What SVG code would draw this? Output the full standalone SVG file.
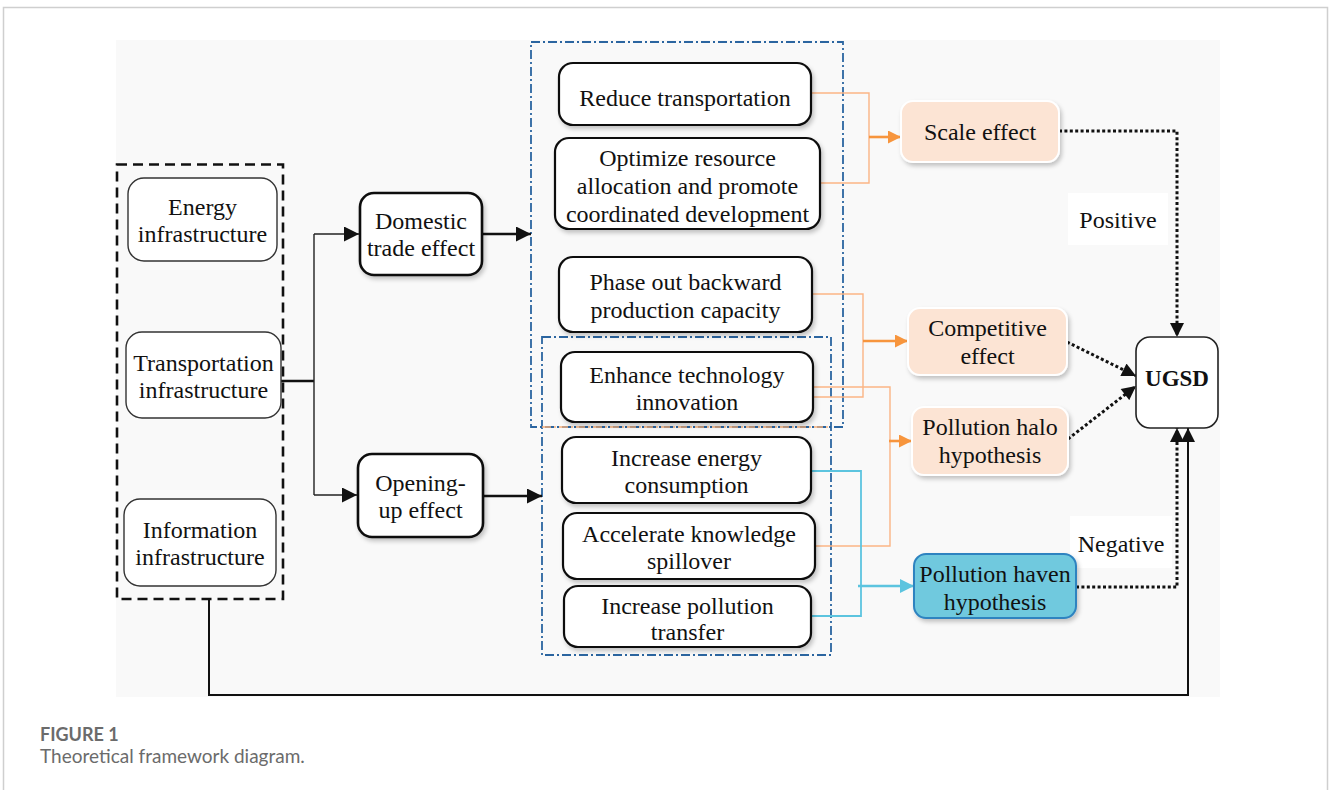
<svg xmlns="http://www.w3.org/2000/svg" width="1330" height="790" viewBox="0 0 1330 790">
<style>
  .t { font-family: "Liberation Serif", "Times New Roman", serif; font-size: 24px; fill: #111; text-anchor: middle; }
  .b { font-weight: bold; font-size: 23px; }
  .infra { fill: #fff; stroke: #333; stroke-width: 1.4; }
  .eff { fill: #fff; stroke: #111; stroke-width: 2.6; }
  .mech { fill: #fff; stroke: #111; stroke-width: 2.2; }
  .peach { fill: #fce4d4; stroke: #fff; stroke-width: 2; }
  .haven { fill: #6fc9de; stroke: #2e83c0; stroke-width: 2; }
  .thin { fill: none; stroke: #222; stroke-width: 1.4; }
  .thick { fill: none; stroke: #111; stroke-width: 2.6; }
  .dot { fill: none; stroke: #111; stroke-width: 3; stroke-dasharray: 3 2.4; }
  .or { fill: none; stroke: #fbb585; stroke-width: 1.4; }
  .orA { fill: none; stroke: #f7953d; stroke-width: 2.6; }
  .bl { fill: none; stroke: #5cc4df; stroke-width: 1.8; }
  .blA { fill: none; stroke: #5cc4df; stroke-width: 2.6; }
  .dd { fill: none; stroke: #2b65a0; stroke-width: 1.8; stroke-dasharray: 9 3 2 3; }
  .cap { font-family: Lato, "Open Sans", sans-serif; fill: #6b6b6b; }
</style>
<defs>
  <filter id="sh" x="-10%" y="-10%" width="125%" height="135%">
    <feDropShadow dx="2" dy="3" stdDeviation="2" flood-color="#000" flood-opacity="0.22"/>
  </filter>
  <marker id="ab" viewBox="0 0 10 10" refX="10" refY="5" markerUnits="userSpaceOnUse" markerWidth="17" markerHeight="15" orient="auto">
    <path d="M0,0 L10,5 L0,10 z" fill="#111"/>
  </marker>
  <marker id="ad" viewBox="0 0 10 10" refX="10" refY="5" markerUnits="userSpaceOnUse" markerWidth="15" markerHeight="14" orient="auto">
    <path d="M0,0 L10,5 L0,10 z" fill="#111"/>
  </marker>
  <marker id="ao" viewBox="0 0 10 10" refX="10" refY="5" markerUnits="userSpaceOnUse" markerWidth="16" markerHeight="13" orient="auto">
    <path d="M0,0 L10,5 L0,10 z" fill="#f7953d"/>
  </marker>
  <marker id="ablue" viewBox="0 0 10 10" refX="10" refY="5" markerUnits="userSpaceOnUse" markerWidth="16" markerHeight="14" orient="auto">
    <path d="M0,0 L10,5 L0,10 z" fill="#5cc4df"/>
  </marker>
</defs>

<!-- page frame -->
<rect x="3.5" y="7.5" width="1324" height="800" fill="#fff" stroke="#cfcfcf" stroke-width="1.5"/>
<!-- diagram background -->
<rect x="116" y="40" width="1104" height="657" fill="#f9f9f9"/>

<!-- group frames -->
<g id="frames">
  <rect x="117" y="164.5" width="166" height="434.5" fill="none" stroke="#111" stroke-width="2.6" stroke-dasharray="10 6"/>
  <rect x="531" y="42" width="312" height="385" fill="#fff" class="dd"/>
  <rect x="542" y="337" width="289" height="318" class="dd"/>
  <line x1="542" y1="427" x2="831" y2="427" stroke="#f7b07a" stroke-width="1.6" stroke-dasharray="9 3 2 3"/>
  <rect x="1068" y="193" width="100" height="52" fill="#fff"/>
  <rect x="1070" y="516" width="102" height="52" fill="#fff"/>
</g>

<!-- connectors -->
<g id="connectors">
  <path class="thick" d="M281,381 H314"/>
  <path class="thin" d="M314,234 V495"/>
  <path class="thin" d="M314,234 H359" marker-end="url(#ab)"/>
  <path class="thin" d="M314,495 H357" marker-end="url(#ab)"/>
  <path class="thick" d="M482,234 H531" marker-end="url(#ab)"/>
  <path class="thick" d="M483,496 H542" marker-end="url(#ab)"/>

  <path class="or" d="M811,93 H869 V183 H820"/>
  <path class="orA" d="M869,137 H901" marker-end="url(#ao)"/>
  <path class="or" d="M812,294 H863 V397 H813"/>
  <path class="orA" d="M863,341 H908" marker-end="url(#ao)"/>
  <path class="or" d="M813,387 H890 V546 H815"/>
  <path class="orA" d="M889,441 H912" marker-end="url(#ao)"/>
  <path class="bl" d="M811,471 H861 V616 H811"/>
  <path class="blA" d="M858,586 H914" marker-end="url(#ablue)"/>

  <path class="dot" d="M1059,131 H1177 V337" marker-end="url(#ad)"/>
  <path class="dot" d="M1067,342 L1136,376" marker-end="url(#ad)"/>
  <path class="dot" d="M1068,439 L1136,386" marker-end="url(#ad)"/>
  <path class="dot" d="M1076,587 H1177 V428" marker-end="url(#ad)"/>
  <path fill="none" stroke="#111" stroke-width="2" d="M209,599 V695 H1188 V428" marker-end="url(#ad)"/>
</g>

<g id="energy">
  <rect class="infra" x="128" y="178" width="149" height="83" rx="16"/>
  <text class="t" x="202.5" y="215">Energy</text>
  <text class="t" x="202.5" y="242">infrastructure</text>
</g>
<g id="transportation">
  <rect class="infra" x="126" y="332" width="155" height="86" rx="16"/>
  <text class="t" x="203.5" y="371">Transportation</text>
  <text class="t" x="203.5" y="398">infrastructure</text>
</g>
<g id="information">
  <rect class="infra" x="124" y="499" width="152" height="87" rx="16"/>
  <text class="t" x="200" y="538">Information</text>
  <text class="t" x="200" y="565">infrastructure</text>
</g>

<g id="domestic">
  <rect class="eff" x="360" y="193" width="122" height="82" rx="14" filter="url(#sh)"/>
  <text class="t" x="421" y="229">Domestic</text>
  <text class="t" x="421" y="256">trade effect</text>
</g>
<g id="opening">
  <rect class="eff" x="358" y="454" width="125" height="83" rx="14" filter="url(#sh)"/>
  <text class="t" x="420.5" y="491">Opening-</text>
  <text class="t" x="420.5" y="518">up effect</text>
</g>

<g id="reduce">
  <rect class="mech" x="559" y="63" width="252" height="62" rx="14" filter="url(#sh)"/>
  <text class="t" x="685" y="106">Reduce transportation</text>
</g>
<g id="optimize">
  <rect class="mech" x="555" y="138" width="265" height="91" rx="14" filter="url(#sh)"/>
  <text class="t" x="687.5" y="166">Optimize resource</text>
  <text class="t" x="687.5" y="194">allocation and promote</text>
  <text class="t" x="687.5" y="222">coordinated development</text>
</g>
<g id="phaseout">
  <rect class="mech" x="559" y="257" width="253" height="75" rx="14" filter="url(#sh)"/>
  <text class="t" x="685.5" y="290">Phase out backward</text>
  <text class="t" x="685.5" y="318">production capacity</text>
</g>
<g id="enhance">
  <rect class="mech" x="561" y="352" width="252" height="70" rx="14" filter="url(#sh)"/>
  <text class="t" x="687" y="383">Enhance technology</text>
  <text class="t" x="687" y="410">innovation</text>
</g>
<g id="energyuse">
  <rect class="mech" x="562" y="437" width="249" height="66" rx="14" filter="url(#sh)"/>
  <text class="t" x="686.5" y="466">Increase energy</text>
  <text class="t" x="686.5" y="493">consumption</text>
</g>
<g id="spillover">
  <rect class="mech" x="563" y="513" width="252" height="66" rx="14" filter="url(#sh)"/>
  <text class="t" x="689" y="542">Accelerate knowledge</text>
  <text class="t" x="689" y="569">spillover</text>
</g>
<g id="transfer">
  <rect class="mech" x="564" y="586" width="247" height="61" rx="14" filter="url(#sh)"/>
  <text class="t" x="687.5" y="614">Increase pollution</text>
  <text class="t" x="687.5" y="640">transfer</text>
</g>

<g id="scale">
  <rect class="peach" x="901" y="101" width="158" height="61" rx="12" filter="url(#sh)"/>
  <text class="t" x="980" y="140">Scale effect</text>
</g>
<g id="competitive">
  <rect class="peach" x="908" y="308" width="159" height="67" rx="12" filter="url(#sh)"/>
  <text class="t" x="987.5" y="336">Competitive</text>
  <text class="t" x="987.5" y="364">effect</text>
</g>
<g id="halo">
  <rect class="peach" x="912" y="407" width="156" height="68" rx="12" filter="url(#sh)"/>
  <text class="t" x="990" y="435">Pollution halo</text>
  <text class="t" x="990" y="463">hypothesis</text>
</g>
<g id="havenbox">
  <rect class="haven" x="914" y="554" width="162" height="64" rx="12" filter="url(#sh)"/>
  <text class="t" x="995" y="582">Pollution haven</text>
  <text class="t" x="995" y="610">hypothesis</text>
</g>
<g id="ugsd">
  <rect x="1136" y="337" width="82" height="91" rx="14" fill="#fff" stroke="#222" stroke-width="1.6"/>
  <text class="t b" x="1177" y="386">UGSD</text>
</g>

<g id="labels">
  <text class="t" x="1118" y="228">Positive</text>
  <text class="t" x="1121" y="552">Negative</text>
</g>

<g id="caption">
  <text class="cap" x="40" y="741" font-size="18" font-weight="bold">FIGURE 1</text>
  <text class="cap" x="40" y="763" font-size="19">Theoretical framework diagram.</text>
</g>
</svg>
